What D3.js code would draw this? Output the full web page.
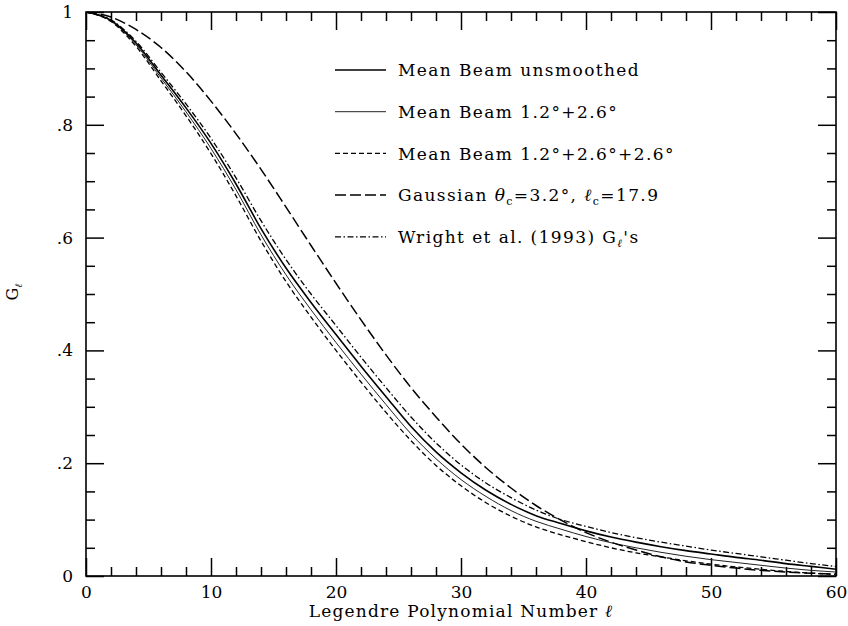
<!DOCTYPE html>
<html><head><meta charset="utf-8">
<script src="https://cdn.jsdelivr.net/npm/d3@7"></script>
<style>
body{margin:0;background:#fff}
text{font-family:"DejaVu Serif",serif;fill:#000}
</style>
</head><body><svg id="c" width="848" height="626"></svg>
<script>
// ---- data ----
const ells = [0,2,4,6,8,10,12,14,16,18,20,22,24,26,28,30,32,34,36,38,40,42,44,46,48,50,52,54,56,58,60];
const unsmoothed = [1.000,0.985,0.945,0.888,0.830,0.767,0.695,0.616,0.546,0.485,0.428,0.372,0.318,0.265,0.220,0.183,0.152,0.127,0.107,0.093,0.080,0.069,0.060,0.052,0.045,0.039,0.033,0.028,0.022,0.017,0.012];
const beam12_26 = [1.000,0.984,0.942,0.883,0.823,0.758,0.685,0.605,0.534,0.472,0.414,0.358,0.304,0.252,0.208,0.171,0.141,0.116,0.097,0.083,0.070,0.059,0.050,0.042,0.035,0.029,0.024,0.019,0.014,0.010,0.007];
const beam12_26_26 = [1.000,0.983,0.939,0.878,0.816,0.749,0.674,0.594,0.522,0.459,0.400,0.344,0.290,0.240,0.196,0.160,0.130,0.106,0.087,0.073,0.061,0.050,0.041,0.034,0.027,0.021,0.016,0.012,0.008,0.005,0.003];
const gaussian = [1.000,0.991,0.969,0.937,0.894,0.842,0.784,0.721,0.654,0.586,0.519,0.454,0.392,0.334,0.282,0.234,0.192,0.156,0.125,0.099,0.077,0.060,0.046,0.034,0.025,0.019,0.014,0.010,0.007,0.005,0.003];
const wright = [1.000,0.986,0.948,0.893,0.837,0.776,0.706,0.630,0.561,0.500,0.444,0.388,0.334,0.282,0.236,0.197,0.165,0.139,0.117,0.100,0.088,0.077,0.068,0.060,0.053,0.046,0.040,0.034,0.028,0.022,0.017];
const xTicks = [0,10,20,30,40,50,60];
const xMinorTicks = [2,4,6,8,12,14,16,18,22,24,26,28,32,34,36,38,42,44,46,48,52,54,56,58];
const yTicks = [0,0.2,0.4,0.6,0.8,1];
const yTickLabels = ["0",".2",".4",".6",".8","1"];
const yMinorTicks = [0.05,0.1,0.15,0.25,0.3,0.35,0.45,0.5,0.55,0.65,0.7,0.75,0.85,0.9,0.95];

const svg = d3.select("#c");
const L=86, R=836, T=12, B=576;
const x = d3.scaleLinear().domain([0,60]).range([L,R]);
const y = d3.scaleLinear().domain([0,1]).range([B,T]);

const series = [
  {vals: unsmoothed, dash: null, w: 1.6, color:"#000"},
  {vals: beam12_26, dash: null, w: 1.0, color:"#222"},
  {vals: beam12_26_26, dash: "5,3", w: 1.3, color:"#000"},
  {vals: gaussian, dash: "11,4", w: 1.5, color:"#000"},
  {vals: wright, dash: "6,2.5,1.5,2.5", w: 1.3, color:"#000"}
];

svg.append("rect").attr("x",L).attr("y",T).attr("width",R-L).attr("height",B-T)
  .attr("fill","none").attr("stroke","#000").attr("stroke-width",1.6);

function styleAxis(g){
  g.select(".domain").remove();
  g.selectAll(".tick line").attr("stroke","#000").attr("stroke-width",1.5);
  g.selectAll(".tick text").attr("font-size",17).attr("font-family","DejaVu Serif");
}
svg.append("g").attr("transform",`translate(0,${B})`)
  .call(d3.axisBottom(x).tickValues(xTicks).tickFormat(d3.format("d")).tickSize(-18).tickPadding(10))
  .call(styleAxis);
svg.append("g").attr("transform",`translate(0,${B})`)
  .call(d3.axisBottom(x).tickValues(xMinorTicks).tickFormat("").tickSize(-9))
  .call(styleAxis);
svg.append("g").attr("transform",`translate(0,${T})`)
  .call(d3.axisTop(x).tickValues(xTicks).tickFormat("").tickSize(-18))
  .call(styleAxis);
svg.append("g").attr("transform",`translate(0,${T})`)
  .call(d3.axisTop(x).tickValues(xMinorTicks).tickFormat("").tickSize(-9))
  .call(styleAxis);
svg.append("g").attr("transform",`translate(${L},0)`)
  .call(d3.axisLeft(y).tickValues(yTicks).tickFormat((d,i)=>yTickLabels[i]).tickSize(-18).tickPadding(13))
  .call(styleAxis);
svg.append("g").attr("transform",`translate(${L},0)`)
  .call(d3.axisLeft(y).tickValues(yMinorTicks).tickFormat("").tickSize(-9))
  .call(styleAxis);
svg.append("g").attr("transform",`translate(${R},0)`)
  .call(d3.axisRight(y).tickValues(yTicks).tickFormat("").tickSize(-18))
  .call(styleAxis);
svg.append("g").attr("transform",`translate(${R},0)`)
  .call(d3.axisRight(y).tickValues(yMinorTicks).tickFormat("").tickSize(-9))
  .call(styleAxis);

const line = d3.line().x((d,i)=>x(ells[i])).y(d=>y(d)).curve(d3.curveMonotoneX);
svg.append("defs").append("clipPath").attr("id","clip").append("rect")
  .attr("x",L).attr("y",T).attr("width",R-L).attr("height",B-T);
const cg = svg.append("g").attr("clip-path","url(#clip)");
series.forEach(s=>{
  cg.append("path").datum(s.vals).attr("d",line).attr("fill","none")
    .attr("stroke",s.color).attr("stroke-width",s.w)
    .attr("stroke-dasharray",s.dash);
});

const legX1=335, legX2=386, legTx=398, legY0=70, legDy=41.7;
const lg = svg.append("g");
series.forEach((s,i)=>{
  const yy = legY0 + i*legDy;
  lg.append("line").attr("x1",legX1).attr("x2",legX2).attr("y1",yy).attr("y2",yy)
    .attr("stroke",s.color).attr("stroke-width",s.w).attr("stroke-dasharray",s.dash);
});
const fs = 17, ls = "1.4px";
function legText(i){
  return lg.append("text").attr("x",legTx).attr("y",legY0+i*legDy).attr("dy","0.36em")
    .attr("font-size",fs).attr("letter-spacing",ls);
}
legText(0).text("Mean Beam unsmoothed");
legText(1).text("Mean Beam 1.2°+2.6°");
legText(2).text("Mean Beam 1.2°+2.6°+2.6°");
const t3 = legText(3);
t3.append("tspan").text("Gaussian ");
t3.append("tspan").attr("font-style","italic").text("θ");
t3.append("tspan").attr("font-size",11).attr("dy",4).text("c");
t3.append("tspan").attr("dy",-4).text("=3.2°, ");
t3.append("tspan").attr("font-style","italic").text("ℓ");
t3.append("tspan").attr("font-size",11).attr("dy",4).text("c");
t3.append("tspan").attr("dy",-4).text("=17.9");
const t4 = legText(4);
t4.append("tspan").text("Wright et al. (1993) G");
t4.append("tspan").attr("font-size",11).attr("dy",4).attr("font-style","italic").text("ℓ");
t4.append("tspan").attr("dy",-4).text("'s");

const xt = svg.append("text").attr("x",461).attr("y",617).attr("text-anchor","middle")
  .attr("font-size",17).attr("letter-spacing","1.2px");
xt.append("tspan").text("Legendre Polynomial Number ");
xt.append("tspan").attr("font-style","italic").text("ℓ");

const yt = svg.append("text").attr("transform","translate(18,292) rotate(-90)")
  .attr("text-anchor","middle").attr("font-size",16);
yt.append("tspan").text("G");
yt.append("tspan").attr("font-size",10).attr("dy",4).attr("font-style","italic").text("ℓ");
</script>
</body></html>
